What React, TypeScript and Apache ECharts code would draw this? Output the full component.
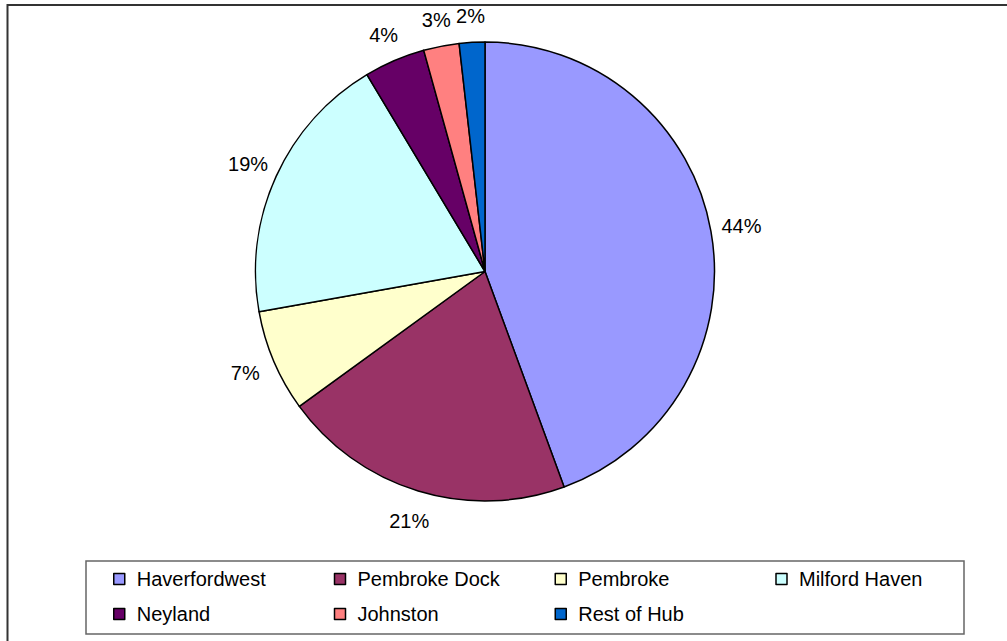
import React, { useEffect, useRef } from "react";
import * as echarts from "echarts";

const categories = ["Haverfordwest", "Pembroke Dock", "Pembroke", "Milford Haven", "Neyland", "Johnston", "Rest of Hub"];
const values = [44.4, 20.6, 7.2, 19.2, 4.3, 2.5, 1.8];
const colors = ["#9999FF", "#993366", "#FFFFCC", "#CCFFFF", "#660066", "#FF8080", "#0066CC"];
const legendRow1 = categories.slice(0, 4);
const legendRow2 = categories.slice(4);

const CX = 485;
const CY = 271.5;
const R = 229.5;
const FONT = "'Liberation Sans', Arial, sans-serif";

export default function App() {
  const ref = useRef<HTMLDivElement>(null);
  useEffect(() => {
    document.body.style.margin = "0";
    const chart = echarts.init(ref.current!, null, { renderer: "svg" });
    const total = values.reduce((a, b) => a + b, 0);
    const cum: number[] = [0];
    values.forEach((v, i) => cum.push(cum[i] + v));
    const legendText = {
      fontSize: 20,
      fontFamily: FONT,
      color: "#000",
      width: 180,
      lineHeight: 20,
      padding: [0, 0, 0, 7],
    };
    const legendCommon = {
      orient: "horizontal",
      left: 113,
      padding: 0,
      itemWidth: 11,
      itemHeight: 11,
      itemGap: 17,
      icon: "rect",
      selectedMode: false,
      itemStyle: { borderColor: "#000", borderWidth: 1.5 },
      textStyle: legendText,
    };
    chart.setOption({
      animation: false,
      backgroundColor: "#fff",
      graphic: [
        {
          type: "rect",
          shape: { x: 7.5, y: 5, width: 1030, height: 680 },
          style: { fill: "none", stroke: "#333", lineWidth: 2 },
          silent: true,
          z: -1,
        },
        {
          type: "rect",
          shape: { x: 86, y: 561, width: 878, height: 73 },
          style: { fill: "#fff", stroke: "#666", lineWidth: 1.5 },
          silent: true,
          z: -1,
        },
      ],
      legend: [
        { ...legendCommon, top: 569, data: legendRow1 },
        { ...legendCommon, top: 604, data: legendRow2 },
      ],
      series: [
        {
          type: "pie",
          center: [CX, CY],
          radius: R,
          startAngle: 90,
          clockwise: true,
          avoidLabelOverlap: false,
          percentPrecision: 0,
          data: categories.map((name, i) => ({
            name,
            value: values[i],
            itemStyle: { color: colors[i] },
          })),
          itemStyle: { borderColor: "#000", borderWidth: 1.5 },
          label: {
            show: true,
            position: "outside",
            formatter: "{d}%",
            fontSize: 20,
            fontFamily: FONT,
            color: "#000",
          },
          labelLine: { show: false },
          emphasis: { disabled: true },
          labelLayout: (p: any) => {
            const i = p.dataIndex;
            const mid = ((cum[i] + cum[i + 1]) / 2 / total) * Math.PI * 2;
            const up = Math.max(0, Math.cos(mid));
            const d = R + 31 - 5 * Math.pow(up, 4);
            return {
              x: CX + d * Math.sin(mid),
              y: CY - d * Math.cos(mid),
              align: "center",
              verticalAlign: "middle",
            };
          },
        },
      ],
    });
    return () => chart.dispose();
  }, []);
  return <div ref={ref} style={{ width: 1007, height: 641 }} />;
}
